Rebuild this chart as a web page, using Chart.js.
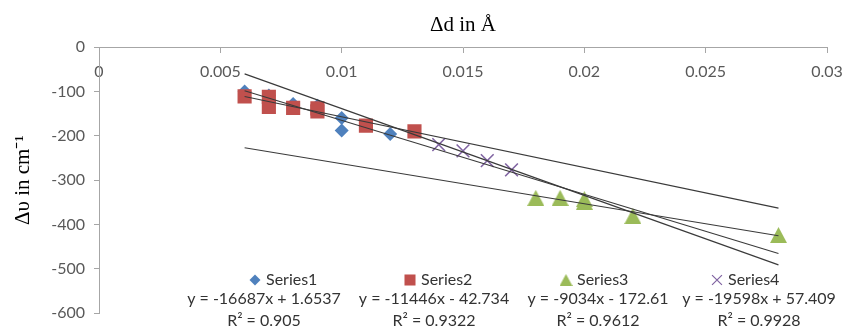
<!DOCTYPE html>
<html>
<head>
<meta charset="utf-8">
<script src="https://cdn.jsdelivr.net/npm/chart.js@4/dist/chart.umd.min.js"></script>
<style>
html,body{margin:0;padding:0;background:#ffffff;}
#wrap{width:844px;height:332px;position:relative;}
</style>
</head>
<body>
<div id="wrap"><canvas id="c" width="844" height="332"></canvas></div>
<script>
// ---- data ----
const series1X = [0.006, 0.007, 0.008, 0.009, 0.010, 0.010, 0.012];
const series1Y = [-100, -109, -128, -132, -160, -188, -196];
const series2X = [0.006, 0.007, 0.007, 0.008, 0.009, 0.009, 0.011, 0.013];
const series2Y = [-111, -112, -135, -137, -138, -145, -177, -190];
const series3X = [0.018, 0.019, 0.020, 0.020, 0.022, 0.028];
const series3Y = [-340, -340, -343, -349, -381, -424];
const series4X = [0.014, 0.015, 0.016, 0.017];
const series4Y = [-220, -234, -256, -277];

const seriesNames = ['Series1', 'Series2', 'Series3', 'Series4'];
// trendline equations shown in the chart
const trendSlopes = [-16687, -11446, -9034, -19598];
const trendIntercepts = [1.6537, -42.734, -172.61, 57.409];
const trendR2 = ['0.905', '0.9322', '0.9612', '0.9928'];
const trendRange = [0.006, 0.028];

const xTicks = [0, 0.005, 0.01, 0.015, 0.02, 0.025, 0.03];
const xTickLabels = ['0', '0.005', '0.01', '0.015', '0.02', '0.025', '0.03'];
const yTicks = [0, -100, -200, -300, -400, -500, -600];
const yTickLabels = ['0', '-100', '-200', '-300', '-400', '-500', '-600'];

const xTitle = 'Δd in Å';
const yTitle = 'Δυ in cm⁻¹';

// ---- styles ----
const colors = ['#4F81BD', '#C0504D', '#9BBB59', '#8064A2'];
const axisColor = '#A6A6A6';
const tickColor = '#595959';
const textColor = '#333333';

// triangle marker centred on its bounding box (like Excel)
function makeTriangle(w, h, color) {
  const cv = document.createElement('canvas');
  cv.width = w; cv.height = h;
  const c = cv.getContext('2d');
  c.fillStyle = color;
  c.beginPath();
  c.moveTo(w / 2, 0);
  c.lineTo(w, h);
  c.lineTo(0, h);
  c.closePath();
  c.fill();
  return cv;
}
const triBig = makeTriangle(17, 16, colors[2]);
const triSmall = makeTriangle(13, 12, colors[2]);

const styles = ['rectRot', 'rect', triBig, 'crossRot'];
const legendStyles = ['rectRot', 'rect', triSmall, 'crossRot'];
const radii = [7, 10, 9, 9];

function pts(xs, ys) { return xs.map((x, i) => ({ x: x, y: ys[i] })); }
const allX = [series1X, series2X, series3X, series4X];
const allY = [series1Y, series2Y, series3Y, series4Y];

const datasets = [];
for (let i = 0; i < 4; i++) {
  datasets.push({
    type: 'line',
    label: 'trend' + (i + 1),
    data: trendRange.map(x => ({ x: x, y: trendSlopes[i] * x + trendIntercepts[i] })),
    borderColor: '#3A3A3A',
    borderWidth: 1.1,
    pointRadius: 0,
    fill: false,
    order: 0
  });
}
for (let i = 0; i < 4; i++) {
  datasets.push({
    type: 'scatter',
    label: seriesNames[i],
    data: pts(allX[i], allY[i]),
    pointStyle: styles[i],
    pointRadius: radii[i],
    pointHoverRadius: radii[i],
    backgroundColor: colors[i],
    borderColor: colors[i],
    pointBorderWidth: i === 3 ? 1.6 : 0,
    order: 4 - i
  });
}

function fmtEq(i) {
  const b = trendIntercepts[i];
  return 'y = ' + trendSlopes[i] + 'x ' + (b < 0 ? '- ' : '+ ') + Math.abs(b);
}

const excelLabels = {
  id: 'excelLabels',
  afterDatasetsDraw(chart) {
    const ctx = chart.ctx;
    const markerX = [255, 410, 566, 717];
    const eqX = [264, 434, 598, 759];
    const legendY = 280, eqY = 299, r2Y = 321;
    const legRadius = [5.5, 7.8, 7, 7];
    ctx.save();
    ctx.font = '16px Lato';
    ctx.textBaseline = 'middle';
    for (let i = 0; i < 4; i++) {
      ctx.fillStyle = colors[i];
      ctx.strokeStyle = colors[i];
      ctx.lineWidth = 1.2;
      Chart.helpers.drawPoint(ctx, {
        pointStyle: legendStyles[i], radius: legRadius[i], rotation: 0,
        borderWidth: i === 3 ? 1.2 : 0
      }, markerX[i], legendY);
      ctx.fillStyle = textColor;
      ctx.textAlign = 'left';
      ctx.fillText(seriesNames[i], markerX[i] + 11, legendY);
      ctx.textAlign = 'center';
      ctx.fillText(fmtEq(i), eqX[i], eqY);
      ctx.fillText('R² = ' + trendR2[i], eqX[i], r2Y);
    }
    ctx.restore();
  }
};

new Chart(document.getElementById('c'), {
  data: { datasets: datasets },
  options: {
    responsive: false,
    animation: false,
    devicePixelRatio: 1,
    layout: { padding: { left: 0, right: 17, top: 0, bottom: 19 } },
    plugins: {
      legend: { display: false },
      tooltip: { enabled: false },
      title: {
        display: true,
        text: xTitle,
        fullSize: false,
        color: '#000000',
        font: { family: 'Liberation Serif', size: 21, weight: 'normal' },
        padding: { top: 13, bottom: 9 }
      }
    },
    scales: {
      x: {
        type: 'linear',
        position: { y: 0 },
        min: 0,
        max: 0.03,
        afterBuildTicks(scale) { scale.ticks = xTicks.map(v => ({ value: v })); },
        afterFit(scale) { scale.paddingLeft = 0; scale.paddingRight = 0; },
        ticks: {
          color: tickColor,
          font: { family: 'Lato', size: 16 },
          padding: 10,
          maxRotation: 0,
          autoSkip: false,
          callback: (v, idx) => xTickLabels[idx]
        },
        grid: { drawOnChartArea: false, drawTicks: true, tickLength: 5, color: axisColor },
        border: { display: true, color: axisColor, width: 1 }
      },
      y: {
        type: 'linear',
        position: 'left',
        min: -600,
        max: 0,
        afterBuildTicks(scale) { scale.ticks = yTicks.slice().reverse().map(v => ({ value: v })); },
        afterFit(scale) { scale.width = 99; scale.paddingTop = 0; scale.paddingBottom = 0; },
        ticks: {
          color: tickColor,
          font: { family: 'Lato', size: 16 },
          padding: 9,
          autoSkip: false,
          callback: (v) => yTickLabels[yTicks.indexOf(v)]
        },
        title: {
          display: true,
          text: yTitle,
          color: '#000000',
          font: { family: 'Liberation Serif', size: 21, weight: 'normal' },
          padding: { top: 11, bottom: 0 }
        },
        grid: { drawOnChartArea: false, drawTicks: true, tickLength: 5, color: axisColor },
        border: { display: true, color: axisColor, width: 1 }
      }
    }
  },
  plugins: [excelLabels]
});
</script>
</body>
</html>
